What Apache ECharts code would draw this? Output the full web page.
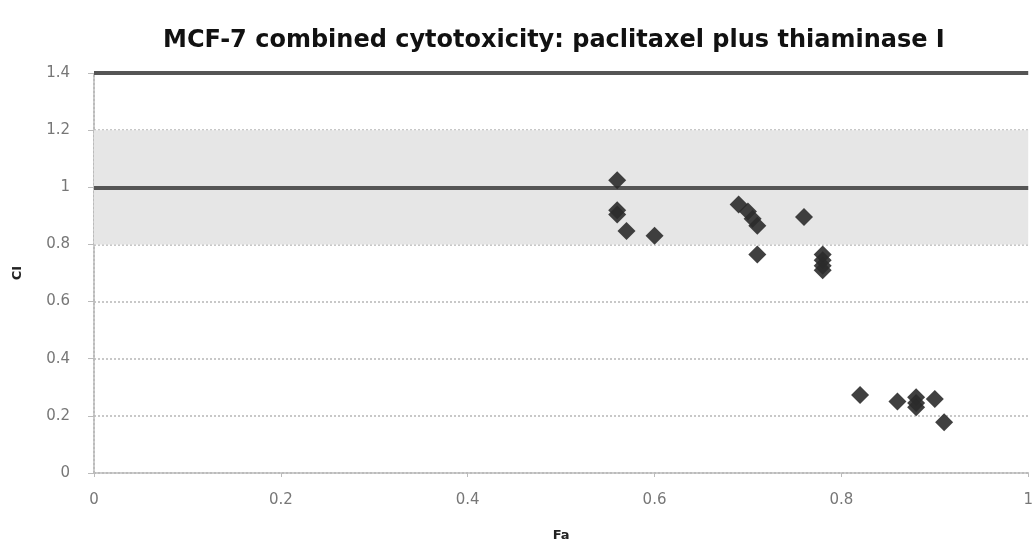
<!DOCTYPE html>
<html>
<head>
<meta charset="utf-8">
<script src="https://cdn.jsdelivr.net/npm/echarts@6/dist/echarts.min.js"></script>
<style>html,body{margin:0;padding:0;background:#fff}#c{width:1036px;height:550px}</style>
</head>
<body>
<div id="c"></div>
<script>
const titleText = 'MCF-7 combined cytotoxicity: paclitaxel plus thiaminase I';
const faValues = [0.56, 0.56, 0.56, 0.57, 0.60, 0.69, 0.70, 0.705, 0.71, 0.71, 0.76, 0.78, 0.78, 0.78, 0.78, 0.82, 0.86, 0.88, 0.88, 0.88, 0.90, 0.91];
const ciValues = [1.025, 0.92, 0.905, 0.847, 0.83, 0.94, 0.915, 0.89, 0.865, 0.765, 0.896, 0.765, 0.745, 0.725, 0.71, 0.273, 0.25, 0.265, 0.245, 0.23, 0.259, 0.178];
const bandRange = [0.8, 1.2];
const refLines = [1, 1.4];

const chart = echarts.init(document.getElementById('c'));
chart.setOption({
  animation: false,
  backgroundColor: '#fff',
  title: {
    text: titleText, left: 158, top: 24,
    textStyle: { fontFamily: 'DejaVu Sans', fontWeight: 'bold', fontSize: 24, color: '#111' }
  },
  grid: { left: 94, right: 3, top: 73, bottom: 77 },
  xAxis: {
    type: 'value', min: 0, max: 1, interval: 0.2,
    name: 'Fa', nameLocation: 'middle', nameGap: 56,
    nameTextStyle: { fontFamily: 'DejaVu Sans', fontWeight: 'bold', fontSize: 13, color: '#222' },
    axisLine: { show: true, lineStyle: { color: '#bbb', type: 'dotted', width: 2 } },
    axisTick: { show: true, length: 4, lineStyle: { color: '#bbb' } },
    axisLabel: { fontFamily: 'DejaVu Sans', fontSize: 15, color: '#777', margin: 20,
      formatter: v => String(+v.toFixed(1)) },
    splitLine: { show: false }
  },
  yAxis: {
    type: 'value', min: 0, max: 1.4, interval: 0.2,
    name: 'CI', nameLocation: 'middle', nameGap: 70, nameRotate: 90,
    nameTextStyle: { fontFamily: 'DejaVu Sans', fontWeight: 'bold', fontSize: 13, color: '#222' },
    axisLine: { show: true, lineStyle: { color: '#bbb', type: 'dotted', width: 2 } },
    axisTick: { show: true, length: 6, lineStyle: { color: '#bbb' } },
    axisLabel: { fontFamily: 'DejaVu Sans', fontSize: 15, color: '#777', margin: 24,
      formatter: v => String(+v.toFixed(1)) },
    splitLine: { show: true, lineStyle: { color: '#c8c8c8', type: 'dotted', width: 2 } }
  },
  series: [{
    type: 'scatter',
    symbol: 'diamond',
    symbolSize: 18,
    itemStyle: { color: '#2b2b2b', opacity: 0.9 },
    data: faValues.map((f, i) => [f, ciValues[i]]),
    markArea: {
      silent: true,
      itemStyle: { color: '#e6e6e6' },
      data: [[{ yAxis: bandRange[0] }, { yAxis: bandRange[1] }]]
    },
    markLine: {
      silent: true, symbol: 'none', label: { show: false },
      lineStyle: { color: '#555', width: 4, type: 'solid' },
      data: refLines.map(v => ({ yAxis: v }))
    },
    z: 5
  }]
});
</script>
</body>
</html>
